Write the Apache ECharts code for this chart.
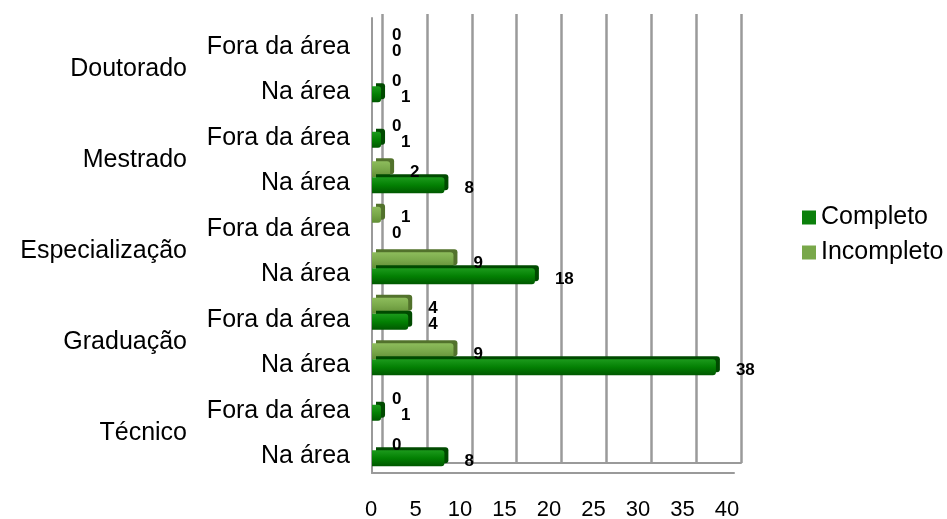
<!DOCTYPE html>
<html>
<head>
<meta charset="utf-8">
<script src="https://cdn.jsdelivr.net/npm/echarts@6/dist/echarts.min.js"></script>
<style>
  html, body { margin: 0; padding: 0; background: #fff; }
  #container { width: 947px; height: 519px; }
</style>
</head>
<body>
<div id="container"></div>
<script>
// data, bottom row first (category axis grows upward)
var subLabels = ['Na área', 'Fora da área', 'Na área', 'Fora da área', 'Na área',
    'Fora da área', 'Na área', 'Fora da área', 'Na área', 'Fora da área'];
var groupLabels = ['Técnico', 'Graduação', 'Especialização', 'Mestrado', 'Doutorado'];
var completo = [8, 1, 38, 4, 18, 0, 8, 1, 1, 0];
var incompleto = [0, 0, 9, 4, 9, 1, 2, 0, 0, 0];
var xTicks = { min: 0, max: 40, interval: 5 };

var font = 'Arial, "Liberation Sans", sans-serif';
var gridColor = '#9a9a9a';

function barColor(top, mid, bottom) {
    return new echarts.graphic.LinearGradient(0, 0, 0, 1, [
        { offset: 0, color: top },
        { offset: 0.5, color: mid },
        { offset: 1, color: bottom }
    ]);
}

var dom = document.getElementById('container');
var myChart = echarts.init(dom, null, { renderer: 'canvas' });

var option = {
    backgroundColor: '#fff',
    animation: false,
    textStyle: { fontFamily: font },
    grid: [
        // bars (drawn slightly up, like the perspective of the original)
        { left: 372, right: 213, top: 18, bottom: 46, outerBoundsMode: 'none' },
        // axis labels
        { left: 371, right: 220, top: 24, bottom: 40, outerBoundsMode: 'none' },
        // back wall with the grid lines
        { left: 382, right: 206, top: 14, bottom: 56, outerBoundsMode: 'none' }
    ],
    legend: {
        orient: 'vertical',
        left: 797,
        top: 200,
        itemWidth: 14,
        itemHeight: 14,
        itemGap: 10,
        icon: 'rect',
        textStyle: { fontSize: 25, color: '#000', fontFamily: font },
        data: [
            { name: 'Completo', itemStyle: { color: '#0b800b' } },
            { name: 'Incompleto', itemStyle: { color: '#79a84a' } }
        ]
    },
    xAxis: [
        {
            gridIndex: 0, type: 'value', min: xTicks.min, max: xTicks.max, interval: xTicks.interval,
            axisLine: { show: true, lineStyle: { color: gridColor, width: 2 } },
            axisTick: { show: false }, axisLabel: { show: false }, splitLine: { show: false }
        },
        {
            gridIndex: 1, type: 'value', min: xTicks.min, max: xTicks.max, interval: xTicks.interval,
            axisLine: { show: false }, axisTick: { show: false }, splitLine: { show: false },
            axisLabel: { fontSize: 22, color: '#000', margin: 20, fontFamily: font }
        },
        {
            gridIndex: 2, type: 'value', min: xTicks.min, max: xTicks.max, interval: xTicks.interval,
            axisLine: { show: true, lineStyle: { color: gridColor, width: 2 } },
            axisTick: { show: false }, axisLabel: { show: false },
            splitLine: { show: true, lineStyle: { color: gridColor, width: 2.5 } }
        }
    ],
    yAxis: [
        {
            gridIndex: 0, type: 'category', data: subLabels,
            axisLine: { show: true, lineStyle: { color: gridColor, width: 2 } },
            axisTick: { show: false }, axisLabel: { show: false }
        },
        {
            gridIndex: 1, type: 'category', data: subLabels,
            axisLine: { show: false }, axisTick: { show: false },
            axisLabel: { fontSize: 25, color: '#000', margin: 21, fontFamily: font }
        },
        {
            gridIndex: 1, type: 'category', data: groupLabels, position: 'left',
            axisLine: { show: false }, axisTick: { show: false },
            axisLabel: { fontSize: 25, color: '#000', margin: 184, fontFamily: font }
        },
        {
            gridIndex: 2, type: 'category', data: subLabels,
            axisLine: { show: false }, axisTick: { show: false }, axisLabel: { show: false }
        }
    ],
    series: [
        // first series sits on top of each category band
        {
            name: 'Incompleto',
            type: 'bar',
            xAxisIndex: 0,
            yAxisIndex: 0,
            data: incompleto,
            barGap: '0%',
            barCategoryGap: '30%',
            itemStyle: {
                color: barColor('#8dbc5c', '#79a84a', '#628e36'),
                borderRadius: [0, 3, 3, 0],
                shadowColor: '#52722c',
                shadowOffsetX: 4,
                shadowOffsetY: -3
            },
            label: {
                show: true, position: 'right', distance: 20, offset: [0, 3],
                fontSize: 17, fontWeight: 'bold', color: '#000', fontFamily: font
            }
        },
        {
            name: 'Completo',
            type: 'bar',
            xAxisIndex: 0,
            yAxisIndex: 0,
            data: completo,
            barGap: '0%',
            barCategoryGap: '30%',
            itemStyle: {
                color: barColor('#1c9a1c', '#038003', '#005800'),
                borderRadius: [0, 3, 3, 0],
                shadowColor: '#004a00',
                shadowOffsetX: 4,
                shadowOffsetY: -3
            },
            label: {
                show: true, position: 'right', distance: 20, offset: [0, 3],
                fontSize: 17, fontWeight: 'bold', color: '#000', fontFamily: font
            }
        }
    ]
};

myChart.setOption(option);
window.addEventListener('resize', myChart.resize);
</script>
</body>
</html>
